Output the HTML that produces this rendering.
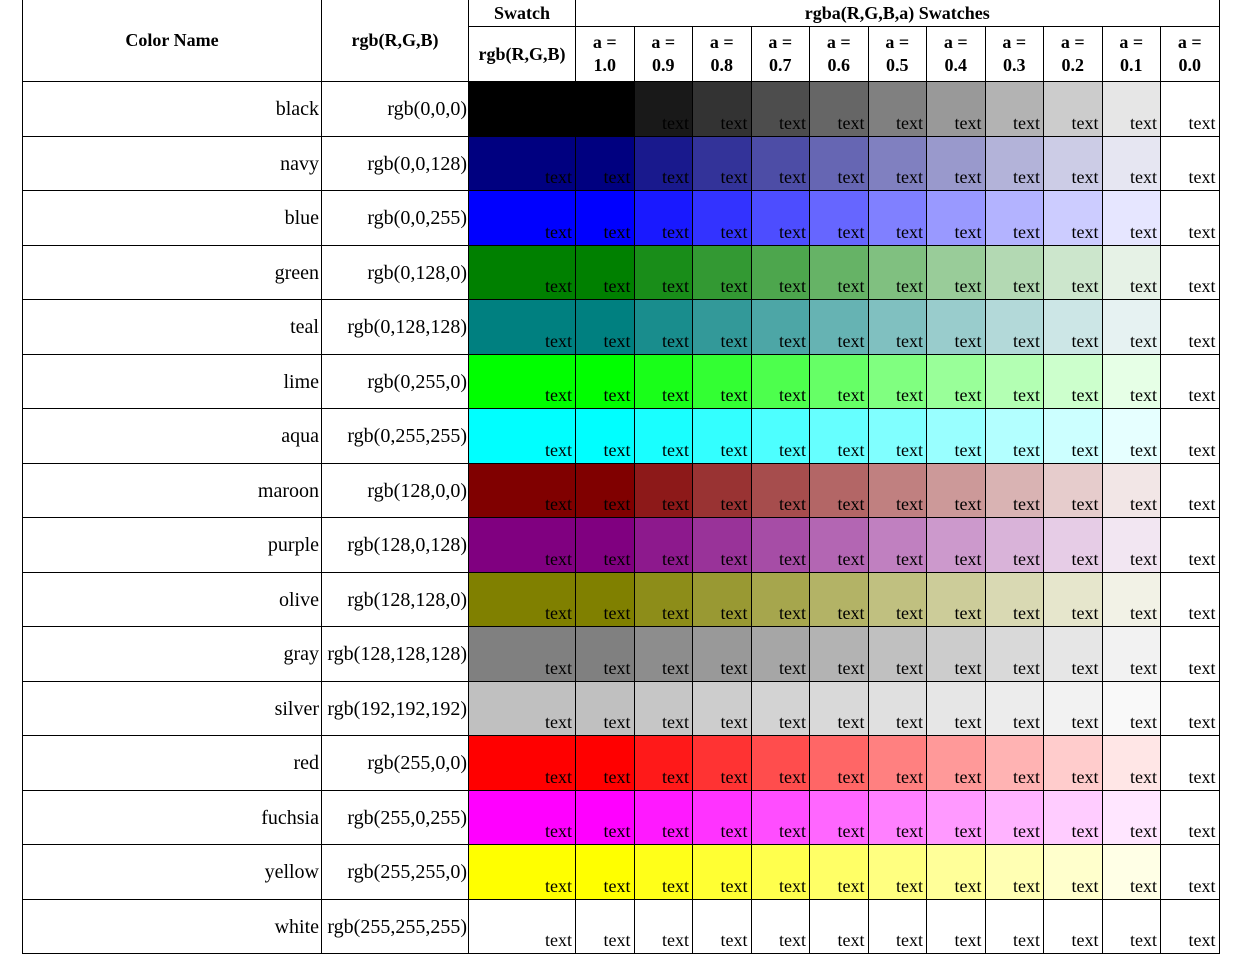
<!DOCTYPE html>
<html><head><meta charset="utf-8">
<style>
html,body{margin:0;padding:0;background:#fff;width:1243px;height:962px;overflow:hidden}
table{position:absolute;left:22px;top:-1px;border-collapse:collapse;table-layout:fixed;font-family:"Liberation Serif",serif;font-size:20px;color:#000}
td,th{border:1px solid #000;padding:0;overflow:hidden;white-space:nowrap}
th{font-weight:bold;font-size:18px;text-align:center;line-height:23px}
td.name,td.rgb{text-align:right;vertical-align:middle;padding-right:2px;padding-top:2px}
td.rgb{padding-right:1px}
td.sw{text-align:right;vertical-align:bottom;padding-right:3px;padding-bottom:3px;font-size:18px;line-height:20px}
tr.data{height:54.5px}
</style></head><body>
<table>
<colgroup><col style="width:299px"><col style="width:147px"><col style="width:107px">
<col style="width:58.5px"><col style="width:58.5px"><col style="width:58.5px"><col style="width:58.5px"><col style="width:58.5px"><col style="width:58.5px"><col style="width:58.5px"><col style="width:58.5px"><col style="width:58.5px"><col style="width:58.5px"><col style="width:58.5px"></colgroup>
<thead id="thead">
<tr style="height:27px"><th rowspan="2">Color Name</th><th rowspan="2">rgb(R,G,B)</th><th>Swatch</th><th colspan="11">rgba(R,G,B,a) Swatches</th></tr>
<tr id="alpharow" style="height:55px"><th>rgb(R,G,B)</th></tr>
</thead>
<tbody id="tbody"></tbody>
</table>
<script>
const names=["black","navy","blue","green","teal","lime","aqua","maroon","purple","olive","gray","silver","red","fuchsia","yellow","white"];
const rgbs=[[0,0,0],[0,0,128],[0,0,255],[0,128,0],[0,128,128],[0,255,0],[0,255,255],[128,0,0],[128,0,128],[128,128,0],[128,128,128],[192,192,192],[255,0,0],[255,0,255],[255,255,0],[255,255,255]];
const alphas=["1.0","0.9","0.8","0.7","0.6","0.5","0.4","0.3","0.2","0.1","0.0"];
const ar=document.getElementById('alpharow');
alphas.forEach(a=>{const th=document.createElement('th');


th.innerHTML='a =<br>'+a;ar.appendChild(th);});
const tb=document.getElementById('tbody');
names.forEach((n,i)=>{const c=rgbs[i];const tr=document.createElement('tr');tr.className='data';


const t1=document.createElement('td');t1.className='name';t1.textContent=n;


tr.appendChild(t1);
const t2=document.createElement('td');t2.className='rgb';t2.textContent='rgb('+c.join(',')+')';


tr.appendChild(t2);
const t3=document.createElement('td');t3.className='sw';t3.textContent='text';t3.style.background='rgb('+c.join(',')+')';


tr.appendChild(t3);
alphas.forEach(a=>{const td=document.createElement('td');td.className='sw';
const al=parseFloat(a);
const m=c.map(v=>Math.round(v*al+255*(1-al)));
td.style.background='rgb('+m.join(',')+')';
td.textContent=(n==='black'&&al===1)?'':'text';


tr.appendChild(td);});
tb.appendChild(tr);});
</script>
</body></html>
